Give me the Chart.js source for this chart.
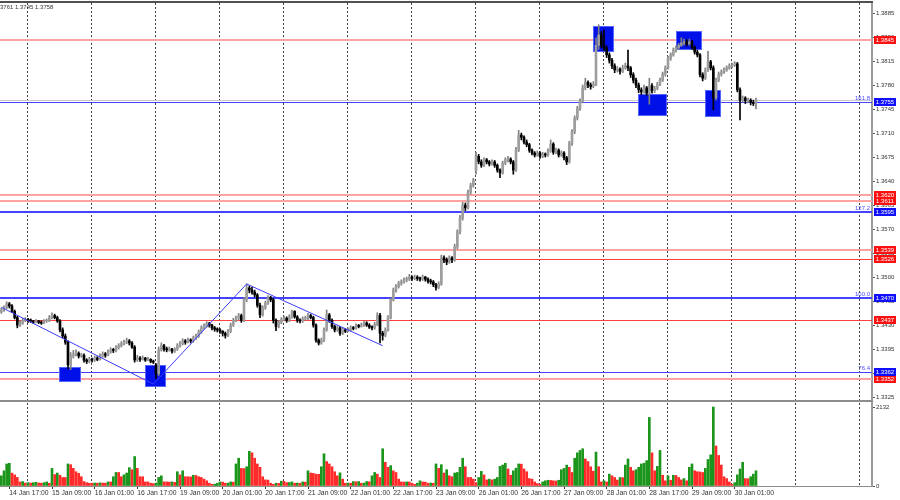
<!DOCTYPE html>
<html>
<head>
<meta charset="utf-8">
<title>GBPUSD H1</title>
<script src="https://cdn.jsdelivr.net/npm/chart.js@4.4.1/dist/chart.umd.min.js"></script>
<style>
  html, body { margin: 0; padding: 0; background: #fff; }
  #wrap { position: relative; width: 900px; height: 500px; overflow: hidden; background: #fff; }
  #price-chart { position: absolute; left: 0; top: 0; }
  #volume-chart { position: absolute; left: 0; top: 402px; }
</style>
</head>
<body>
<div id="wrap">
  <canvas id="price-chart" width="900" height="402"></canvas>
  <canvas id="volume-chart" width="900" height="98"></canvas>
</div>
<script>
const timeLabels = ['14 Jan 17:00', '15 Jan 09:00', '16 Jan 01:00', '16 Jan 17:00', '19 Jan 09:00',
  '20 Jan 01:00', '20 Jan 17:00', '21 Jan 09:00', '22 Jan 01:00', '22 Jan 17:00', '23 Jan 09:00',
  '26 Jan 01:00', '26 Jan 17:00', '27 Jan 09:00', '28 Jan 01:00', '28 Jan 17:00', '29 Jan 09:00',
  '30 Jan 01:00'];

const priceTicks = [1.3325, 1.3360, 1.3395, 1.3430, 1.3465, 1.3500, 1.3535, 1.3570, 1.3605,
  1.3640, 1.3675, 1.3710, 1.3745, 1.3780, 1.3815, 1.3850, 1.3885];
const volumeTicks = [0, 2132];

// H1 candles, oldest first
const opens = [
  1.3449,1.3452,1.3456,1.3461,1.3458,1.3450,1.3441,1.3430,1.3433,1.3437,
  1.3438,1.3437,1.3436,1.3434,1.3436,1.3434,1.3433,1.3436,1.3437,1.3441,
  1.3444,1.3441,1.3436,1.3423,1.3414,1.3405,1.3372,1.3385,1.3388,1.3389,
  1.3385,1.3386,1.3379,1.3377,1.3380,1.3379,1.3382,1.3380,1.3385,1.3388,
  1.3386,1.3391,1.3394,1.3393,1.3397,1.3400,1.3403,1.3405,1.3407,1.3404,
  1.3398,1.3379,1.3382,1.3380,1.3382,1.3379,1.3380,1.3377,1.3372,1.3359,
  1.3394,1.3400,1.3395,1.3394,1.3395,1.3392,1.3395,1.3400,1.3403,1.3407,
  1.3405,1.3408,1.3407,1.3411,1.3414,1.3420,1.3426,1.3429,1.3432,1.3430,
  1.3426,1.3424,1.3423,1.3421,1.3418,1.3415,1.3421,1.3430,1.3437,1.3440,
  1.3444,1.3437,1.3467,1.3484,1.3481,1.3478,1.3474,1.3459,1.3445,1.3455,
  1.3462,1.3470,1.3467,1.3437,1.3428,1.3434,1.3438,1.3440,1.3437,1.3442,
  1.3450,1.3442,1.3437,1.3436,1.3439,1.3440,1.3444,1.3441,1.3430,1.3408,
  1.3404,1.3408,1.3423,1.3445,1.3437,1.3428,1.3423,1.3426,1.3418,1.3423,
  1.3421,1.3423,1.3426,1.3425,1.3429,1.3428,1.3430,1.3433,1.3430,1.3427,
  1.3426,1.3431,1.3444,1.3418,1.3415,1.3423,1.3441,1.3467,1.3481,1.3486,
  1.3491,1.3493,1.3496,1.3497,1.3500,1.3498,1.3500,1.3498,1.3497,1.3500,
  1.3497,1.3494,1.3493,1.3489,1.3485,1.3490,1.3528,1.3525,1.3522,1.3528,
  1.3525,1.3544,1.3566,1.3586,1.3605,1.3601,1.3624,1.3634,1.3655,1.3676,
  1.3668,1.3663,1.3671,1.3668,1.3665,1.3668,1.3663,1.3656,1.3652,1.3666,
  1.3671,1.3672,1.3668,1.3656,1.3685,1.3707,1.3704,1.3697,1.3693,1.3685,
  1.3681,1.3678,1.3681,1.3676,1.3679,1.3678,1.3684,1.3694,1.3682,1.3685,
  1.3678,1.3681,1.3674,1.3668,1.3695,1.3712,1.3732,1.3746,1.3757,1.3776,
  1.3784,1.3780,1.3778,1.3781,1.3838,1.3853,1.3838,1.3834,1.3824,1.3816,
  1.3808,1.3802,1.3803,1.3800,1.3805,1.3808,1.3805,1.3795,1.3787,1.3780,
  1.3773,1.3770,1.3776,1.3768,1.3779,1.3772,1.3775,1.3781,1.3787,1.3796,
  1.3805,1.3819,1.3824,1.3831,1.3834,1.3838,1.3841,1.3843,1.3840,1.3843,
  1.3835,1.3828,1.3824,1.3795,1.3790,1.3802,1.3814,1.3805,1.3761,1.3787,
  1.3796,1.3799,1.3802,1.3805,1.3808,1.3809,1.3811,1.3773,1.3758,1.3761,
  1.3757,1.3758,1.3755,1.3753
];
const highs = [
  1.3455,1.3458,1.3464,1.3463,1.3460,1.3452,1.3443,1.3436,1.3440,1.3441,
  1.3440,1.3439,1.3437,1.3438,1.3437,1.3436,1.3438,1.3439,1.3444,1.3448,
  1.3446,1.3443,1.3438,1.3426,1.3417,1.3407,1.3390,1.3393,1.3394,1.3391,
  1.3389,1.3388,1.3381,1.3383,1.3382,1.3385,1.3384,1.3388,1.3391,1.3390,
  1.3394,1.3397,1.3396,1.3400,1.3403,1.3406,1.3408,1.3411,1.3409,1.3406,
  1.3400,1.3386,1.3384,1.3385,1.3383,1.3383,1.3381,1.3379,1.3374,1.3398,
  1.3404,1.3402,1.3398,1.3398,1.3396,1.3397,1.3403,1.3406,1.3410,1.3409,
  1.3411,1.3410,1.3414,1.3417,1.3423,1.3429,1.3432,1.3435,1.3434,1.3431,
  1.3428,1.3426,1.3425,1.3422,1.3420,1.3424,1.3433,1.3440,1.3443,1.3447,
  1.3446,1.3470,1.3490,1.3487,1.3485,1.3481,1.3476,1.3462,1.3458,1.3465,
  1.3473,1.3472,1.3469,1.3439,1.3437,1.3441,1.3443,1.3442,1.3445,1.3452,
  1.3451,1.3444,1.3439,1.3442,1.3443,1.3447,1.3446,1.3443,1.3432,1.3410,
  1.3411,1.3426,1.3452,1.3447,1.3439,1.3430,1.3429,1.3428,1.3426,1.3425,
  1.3426,1.3429,1.3428,1.3432,1.3431,1.3433,1.3436,1.3435,1.3432,1.3429,
  1.3434,1.3448,1.3447,1.3421,1.3426,1.3444,1.3470,1.3484,1.3489,1.3494,
  1.3496,1.3499,1.3500,1.3504,1.3502,1.3503,1.3502,1.3500,1.3503,1.3501,
  1.3499,1.3497,1.3495,1.3491,1.3493,1.3532,1.3531,1.3528,1.3531,1.3530,
  1.3548,1.3569,1.3590,1.3609,1.3608,1.3627,1.3637,1.3644,1.3682,1.3679,
  1.3671,1.3674,1.3673,1.3670,1.3671,1.3670,1.3665,1.3658,1.3669,1.3674,
  1.3676,1.3674,1.3670,1.3689,1.3714,1.3710,1.3706,1.3700,1.3695,1.3687,
  1.3683,1.3684,1.3683,1.3682,1.3681,1.3687,1.3700,1.3696,1.3688,1.3687,
  1.3684,1.3683,1.3676,1.3698,1.3715,1.3735,1.3749,1.3760,1.3780,1.3790,
  1.3786,1.3783,1.3785,1.3849,1.3868,1.3858,1.3860,1.3837,1.3827,1.3819,
  1.3811,1.3807,1.3805,1.3809,1.3812,1.3831,1.3807,1.3798,1.3790,1.3783,
  1.3776,1.3780,1.3778,1.3790,1.3782,1.3778,1.3784,1.3790,1.3799,1.3808,
  1.3822,1.3827,1.3834,1.3837,1.3841,1.3849,1.3847,1.3846,1.3847,1.3845,
  1.3837,1.3831,1.3826,1.3798,1.3805,1.3829,1.3816,1.3808,1.3790,1.3799,
  1.3802,1.3805,1.3808,1.3811,1.3812,1.3814,1.3813,1.3776,1.3764,1.3763,
  1.3761,1.3760,1.3758,1.3761
];
const lows = [
  1.3447,1.3450,1.3454,1.3455,1.3448,1.3439,1.3426,1.3428,1.3431,1.3435,
  1.3434,1.3434,1.3432,1.3433,1.3432,1.3431,1.3432,1.3434,1.3435,1.3439,
  1.3439,1.3434,1.3420,1.3411,1.3402,1.3366,1.3365,1.3382,1.3385,1.3382,
  1.3383,1.3376,1.3374,1.3375,1.3376,1.3377,1.3378,1.3379,1.3383,1.3383,
  1.3385,1.3389,1.3390,1.3391,1.3395,1.3398,1.3401,1.3403,1.3401,1.3396,
  1.3376,1.3377,1.3377,1.3379,1.3377,1.3378,1.3375,1.3374,1.3352,1.3356,
  1.3392,1.3392,1.3391,1.3392,1.3389,1.3390,1.3393,1.3398,1.3401,1.3402,
  1.3404,1.3404,1.3405,1.3409,1.3412,1.3418,1.3424,1.3427,1.3427,1.3423,
  1.3421,1.3420,1.3418,1.3414,1.3411,1.3413,1.3419,1.3428,1.3435,1.3438,
  1.3434,1.3435,1.3464,1.3477,1.3475,1.3471,1.3456,1.3441,1.3443,1.3453,
  1.3460,1.3464,1.3433,1.3422,1.3426,1.3432,1.3436,1.3434,1.3435,1.3440,
  1.3440,1.3434,1.3433,1.3434,1.3437,1.3438,1.3439,1.3427,1.3405,1.3401,
  1.3402,1.3406,1.3421,1.3434,1.3425,1.3420,1.3421,1.3415,1.3416,1.3419,
  1.3420,1.3421,1.3423,1.3424,1.3426,1.3427,1.3428,1.3428,1.3425,1.3423,
  1.3424,1.3429,1.3404,1.3408,1.3413,1.3421,1.3439,1.3465,1.3478,1.3484,
  1.3488,1.3491,1.3493,1.3495,1.3495,1.3496,1.3495,1.3494,1.3495,1.3494,
  1.3491,1.3490,1.3486,1.3481,1.3483,1.3488,1.3521,1.3518,1.3520,1.3521,
  1.3523,1.3541,1.3563,1.3583,1.3597,1.3599,1.3621,1.3631,1.3650,1.3665,
  1.3660,1.3661,1.3665,1.3662,1.3663,1.3660,1.3653,1.3645,1.3650,1.3664,
  1.3668,1.3665,1.3650,1.3654,1.3683,1.3700,1.3694,1.3690,1.3682,1.3678,
  1.3675,1.3676,1.3673,1.3674,1.3675,1.3676,1.3682,1.3679,1.3680,1.3675,
  1.3676,1.3671,1.3664,1.3666,1.3692,1.3709,1.3729,1.3743,1.3754,1.3773,
  1.3776,1.3774,1.3776,1.3779,1.3832,1.3834,1.3830,1.3820,1.3812,1.3804,
  1.3798,1.3799,1.3796,1.3798,1.3803,1.3801,1.3791,1.3783,1.3776,1.3769,
  1.3766,1.3768,1.3765,1.3752,1.3768,1.3769,1.3773,1.3779,1.3785,1.3793,
  1.3803,1.3816,1.3822,1.3828,1.3832,1.3836,1.3838,1.3837,1.3838,1.3832,
  1.3825,1.3821,1.3792,1.3786,1.3788,1.3800,1.3802,1.3744,1.3758,1.3785,
  1.3793,1.3797,1.3800,1.3803,1.3805,1.3807,1.3770,1.3729,1.3755,1.3753,
  1.3754,1.3751,1.3750,1.3745
];
const closes = [
  1.3452,1.3456,1.3461,1.3458,1.3450,1.3441,1.3430,1.3433,1.3437,1.3438,
  1.3437,1.3436,1.3434,1.3436,1.3434,1.3433,1.3436,1.3437,1.3441,1.3444,
  1.3441,1.3436,1.3423,1.3414,1.3405,1.3372,1.3385,1.3388,1.3389,1.3385,
  1.3386,1.3379,1.3377,1.3380,1.3379,1.3382,1.3380,1.3385,1.3388,1.3386,
  1.3391,1.3394,1.3393,1.3397,1.3400,1.3403,1.3405,1.3407,1.3404,1.3398,
  1.3379,1.3382,1.3380,1.3382,1.3379,1.3380,1.3377,1.3376,1.3359,1.3394,
  1.3400,1.3395,1.3394,1.3395,1.3392,1.3395,1.3400,1.3403,1.3407,1.3405,
  1.3408,1.3407,1.3411,1.3414,1.3420,1.3426,1.3429,1.3432,1.3430,1.3426,
  1.3424,1.3423,1.3421,1.3418,1.3415,1.3421,1.3430,1.3437,1.3440,1.3444,
  1.3437,1.3467,1.3484,1.3481,1.3478,1.3474,1.3459,1.3445,1.3455,1.3462,
  1.3470,1.3467,1.3437,1.3428,1.3434,1.3438,1.3440,1.3437,1.3442,1.3450,
  1.3442,1.3437,1.3436,1.3439,1.3440,1.3444,1.3441,1.3430,1.3408,1.3404,
  1.3408,1.3423,1.3445,1.3437,1.3428,1.3423,1.3426,1.3418,1.3423,1.3421,
  1.3423,1.3426,1.3425,1.3429,1.3428,1.3430,1.3433,1.3430,1.3427,1.3426,
  1.3431,1.3444,1.3418,1.3415,1.3423,1.3441,1.3467,1.3481,1.3486,1.3491,
  1.3493,1.3496,1.3497,1.3500,1.3498,1.3500,1.3498,1.3497,1.3500,1.3497,
  1.3494,1.3493,1.3489,1.3485,1.3490,1.3528,1.3525,1.3522,1.3528,1.3525,
  1.3544,1.3566,1.3586,1.3605,1.3601,1.3624,1.3634,1.3641,1.3676,1.3668,
  1.3663,1.3671,1.3668,1.3665,1.3668,1.3663,1.3656,1.3652,1.3666,1.3671,
  1.3672,1.3668,1.3656,1.3685,1.3707,1.3704,1.3697,1.3693,1.3685,1.3681,
  1.3678,1.3681,1.3676,1.3679,1.3678,1.3684,1.3694,1.3682,1.3685,1.3678,
  1.3681,1.3674,1.3668,1.3695,1.3712,1.3732,1.3746,1.3757,1.3776,1.3784,
  1.3780,1.3778,1.3781,1.3838,1.3853,1.3838,1.3834,1.3824,1.3816,1.3808,
  1.3802,1.3803,1.3800,1.3805,1.3808,1.3805,1.3795,1.3787,1.3780,1.3773,
  1.3770,1.3776,1.3768,1.3779,1.3772,1.3775,1.3781,1.3787,1.3796,1.3805,
  1.3819,1.3824,1.3831,1.3834,1.3838,1.3841,1.3843,1.3840,1.3843,1.3835,
  1.3828,1.3824,1.3795,1.3790,1.3802,1.3814,1.3805,1.3761,1.3787,1.3796,
  1.3799,1.3802,1.3805,1.3808,1.3809,1.3811,1.3773,1.3758,1.3761,1.3757,
  1.3758,1.3755,1.3753,1.3758
];
const volumes = [
  275,410,595,613,348,300,230,110,120,80,
  90,80,90,100,80,75,90,110,75,475,
  310,350,290,230,230,595,575,475,385,340,
  250,120,90,75,75,80,75,85,80,75,
  110,110,250,365,365,250,300,350,495,440,
  795,475,250,250,110,110,75,65,80,230,
  275,110,110,105,110,100,385,300,410,250,
  250,245,290,285,250,230,185,140,75,45,
  50,75,110,105,75,80,110,105,595,750,
  475,470,520,935,895,750,595,505,250,165,
  160,75,45,75,70,130,125,90,95,110,
  75,80,75,110,105,410,350,340,320,315,
  520,870,660,595,520,385,275,355,185,75,
  80,75,120,115,120,75,80,120,115,275,
  365,320,230,1005,640,505,550,410,365,185,
  110,105,110,110,75,45,75,140,110,105,
  75,80,75,595,475,575,350,440,275,250,
  350,365,505,750,520,230,230,185,90,230,
  395,300,165,185,165,185,230,530,565,615,
  460,290,410,480,595,590,460,385,200,185,
  110,65,45,110,140,155,150,140,135,155,
  440,475,565,505,365,750,895,960,1005,730,
  660,520,400,915,520,110,140,110,320,275,
  230,160,230,225,565,730,505,410,440,505,
  595,615,685,1850,895,410,530,960,290,140,
  275,155,290,285,230,165,200,140,505,595,
  410,385,380,365,475,715,840,2132,1080,825,
  565,250,200,110,45,90,300,460,640,200,
  195,250,320,410
];

// horizontal levels
const redLevels = [1.3845, 1.3620, 1.3611, 1.3539, 1.3526, 1.3437, 1.3352];
const blueLevels = [1.3755, 1.3595, 1.3470, 1.3362];
const fiboLabels = ['161.8', '127.2', '100.0', '76.4'];

// blue zones: bar span and price span
const zoneFromBar = [21.6, 53.9, 221.9, 238.75, 253.0, 263.9];
const zoneToBar = [29.9, 61.75, 229.75, 249.6, 262.75, 269.9];
const zoneHigh = [1.3369, 1.3372, 1.3866, 1.3767, 1.3859, 1.3773];
const zoneLow = [1.3347, 1.3340, 1.3828, 1.3735, 1.3831, 1.3733];

// zigzag trend lines
const zigzagBars = [0, 57, 92, 143];
const zigzagPrices = [1.3456, 1.3344, 1.3490, 1.3400];

// layout
const SLOTS = 327;
const FIRST_LABEL = 3, LABEL_STEP = 16;
const GRID_FIRST = 9.75, GRID_STEP = 24;
const FONT = 'Liberation Sans';
const redSoft = [true, true, true, true, false, false, true];
const blueWidth = [1, 2, 2, 1];

const categories = new Array(SLOTS).fill('');
timeLabels.forEach((t, k) => { categories[FIRST_LABEL + k * LABEL_STEP] = t; });

const zigzag = new Array(SLOTS).fill(null);
zigzagBars.forEach((b, k) => { zigzag[b] = zigzagPrices[k]; });

const isUp = closes.map((c, i) => c >= opens[i]);
const volUp = volumes.map((v, i) => i === 0 || v > volumes[i - 1]);
const last = closes.length - 1;

function dashedGrid(chart) {
  const { ctx, chartArea: a, scales: { x } } = chart;
  ctx.save();
  ctx.strokeStyle = '#404040';
  ctx.lineWidth = 1;
  ctx.setLineDash([2, 2]);
  for (let v = GRID_FIRST; v < SLOTS; v += GRID_STEP) {
    const px = Math.round(x.getPixelForValue(v)) + 0.5;
    ctx.beginPath();
    ctx.moveTo(px, a.top);
    ctx.lineTo(px, a.bottom);
    ctx.stroke();
  }
  ctx.restore();
}

const priceDecor = {
  id: 'priceDecor',
  beforeDatasetsDraw(chart) {
    const { ctx, chartArea: a, scales: { x, y } } = chart;
    dashedGrid(chart);
    ctx.save();
    ctx.beginPath();
    ctx.rect(a.left, a.top, a.right - a.left, a.bottom - a.top);
    ctx.clip();

    const hline = (price, color, width) => {
      let py = Math.round(y.getPixelForValue(price));
      if (width % 2) py += 0.5;
      ctx.strokeStyle = color;
      ctx.lineWidth = width;
      ctx.beginPath();
      ctx.moveTo(a.left, py);
      ctx.lineTo(a.right, py);
      ctx.stroke();
    };
    hline(closes[last], '#c8c8c8', 1);
    redLevels.forEach((p, k) => hline(p, redSoft[k] ? '#ffa2a2' : '#ff4040', redSoft[k] ? 2 : 1));
    blueLevels.forEach((p, k) => hline(p, '#4242ff', blueWidth[k]));

    zoneFromBar.forEach((b, k) => {
      const x1 = Math.round(x.getPixelForValue(b));
      const x2 = Math.round(x.getPixelForValue(zoneToBar[k]));
      const y1 = Math.round(y.getPixelForValue(zoneHigh[k]));
      const y2 = Math.round(y.getPixelForValue(zoneLow[k]));
      ctx.fillStyle = '#0010e8';
      ctx.fillRect(x1, y1, x2 - x1, y2 - y1);
      ctx.strokeStyle = '#5566ff';
      ctx.lineWidth = 1;
      ctx.strokeRect(x1 + 0.5, y1 + 0.5, x2 - x1 - 1, y2 - y1 - 1);
    });
    ctx.restore();
  },
  afterDraw(chart) {
    const { ctx, chartArea: a, scales: { y } } = chart;
    ctx.save();
    // frame
    ctx.fillStyle = '#505050';
    ctx.fillRect(0, 1, a.right + 1, 2);
    ctx.fillStyle = '#8c8c8c';
    ctx.fillRect(0, a.bottom, a.right + 1, 2);

    // level price boxes on the axis
    ctx.font = `6px ${FONT}`;
    ctx.textBaseline = 'middle';
    const box = (price, fill) => {
      const py = Math.round(y.getPixelForValue(price));
      ctx.fillStyle = fill;
      ctx.fillRect(a.right + 2, py - 4, 22, 8);
      ctx.fillStyle = '#fff';
      ctx.textAlign = 'center';
      ctx.fillText(price.toFixed(4), a.right + 13, py + 0.5);
    };
    redLevels.forEach(p => box(p, '#ff1010'));
    blueLevels.forEach(p => box(p, '#1010ff'));

    // fibo level captions
    ctx.fillStyle = '#4a4aff';
    ctx.textAlign = 'right';
    ctx.textBaseline = 'bottom';
    blueLevels.forEach((p, k) => {
      const py = Math.round(y.getPixelForValue(p));
      ctx.fillText(fiboLabels[k], a.right - 2, py - 1);
    });

    // header (clipped at the left edge like the terminal)
    ctx.fillStyle = '#333';
    ctx.textAlign = 'left';
    ctx.textBaseline = 'middle';
    ctx.fillText([highs[last], lows[last], closes[last]].map(v => v.toFixed(4)).join(' '), -5, 7);
    ctx.restore();
  }
};

const volumeDecor = {
  id: 'volumeDecor',
  beforeDatasetsDraw(chart) {
    dashedGrid(chart);
  }
};

new Chart(document.getElementById('price-chart'), {
  type: 'bar',
  data: {
    labels: categories,
    datasets: [
      {
        type: 'line',
        data: zigzag,
        borderColor: '#3c3cff',
        borderWidth: 1,
        pointRadius: 0,
        spanGaps: true,
        order: 0
      },
      {
        data: closes.map((c, i) => [opens[i], c]),
        backgroundColor: isUp.map(u => u ? '#9e9e9e' : '#000000'),
        barThickness: 2,
        minBarLength: 1,
        grouped: false,
        borderWidth: 0,
        order: 1
      },
      {
        data: highs.map((h, i) => [lows[i], h]),
        backgroundColor: isUp.map(u => u ? '#808080' : '#000000'),
        barThickness: 1,
        grouped: false,
        borderWidth: 0,
        order: 2
      }
    ]
  },
  options: {
    responsive: false,
    animation: false,
    devicePixelRatio: 1,
    events: [],
    layout: { padding: { top: 3, bottom: 2, left: 0, right: 0 } },
    plugins: { legend: { display: false }, tooltip: { enabled: false } },
    scales: {
      x: { display: false },
      y: {
        position: 'right',
        min: 1.33208,
        max: 1.38996,
        afterBuildTicks: s => { s.ticks = priceTicks.map(v => ({ value: v })); },
        afterFit: s => { s.width = 28; s.paddingTop = 0; s.paddingBottom = 0; },
        ticks: {
          autoSkip: false,
          padding: 1,
          color: '#333',
          font: { family: FONT, size: 6 },
          callback: v => v.toFixed(4)
        },
        grid: { drawOnChartArea: false, drawTicks: true, tickLength: 3, color: '#555' },
        border: { color: '#9c9c9c', width: 2 }
      }
    }
  },
  plugins: [priceDecor]
});

new Chart(document.getElementById('volume-chart'), {
  type: 'bar',
  data: {
    labels: categories,
    datasets: [{
      data: volumes,
      backgroundColor: volUp.map(u => u ? '#1c951c' : '#ff2a2a'),
      barThickness: 2,
      borderWidth: 0
    }]
  },
  options: {
    responsive: false,
    animation: false,
    devicePixelRatio: 1,
    events: [],
    layout: { padding: { top: 1, bottom: 0, left: 0, right: 0 } },
    plugins: { legend: { display: false }, tooltip: { enabled: false } },
    scales: {
      x: {
        afterBuildTicks: s => { s.ticks = s.ticks.filter(t => categories[t.value]); },
        afterFit: s => { s.height = 14; },
        ticks: {
          autoSkip: false,
          maxRotation: 0,
          minRotation: 0,
          align: 'start',
          padding: 0,
          color: '#333',
          font: { family: FONT, size: 6.8 }
        },
        grid: { offset: false, drawOnChartArea: false, drawTicks: true, tickLength: 3, color: '#333' },
        border: { color: '#8c8c8c', width: 1 }
      },
      y: {
        position: 'right',
        min: 0,
        max: 2240,
        afterBuildTicks: s => { s.ticks = volumeTicks.map(v => ({ value: v })); },
        afterFit: s => { s.width = 28; s.paddingTop = 0; s.paddingBottom = 0; },
        ticks: {
          autoSkip: false,
          padding: 1,
          color: '#333',
          font: { family: FONT, size: 6 },
          callback: v => String(v)
        },
        grid: { drawOnChartArea: false, drawTicks: true, tickLength: 3, color: '#555' },
        border: { color: '#9c9c9c', width: 2 }
      }
    }
  },
  plugins: [volumeDecor]
});
</script>
</body>
</html>
